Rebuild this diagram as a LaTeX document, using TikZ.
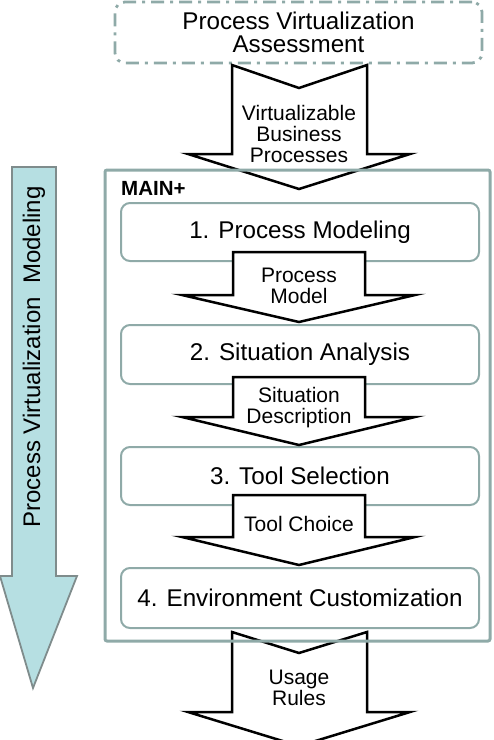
\documentclass[tikz,border=0pt]{standalone}
\usepackage{fontspec}
\setmainfont{Liberation Sans}
\definecolor{frame}{HTML}{8FAAA8}
\definecolor{lightblue}{HTML}{B6DFE2}
\definecolor{arrowline}{HTML}{7F8C8C}
\begin{document}
\begin{tikzpicture}[x=1pt,y=-1pt,
  stepbox/.style={draw=frame, line width=2pt, rounded corners=9pt, fill=white,
    minimum width=358pt, inner sep=0pt, font=\fontsize{24.2}{24}\selectfont},
  blockarrow/.style={draw=black, fill=white, line width=2.5pt, line join=miter},
  arrowlabel/.style={align=center, inner sep=0pt, font=\fontsize{21}{21}\selectfont}]
\useasboundingbox (0,0) rectangle (494,740);

% left arrow
\draw[fill=lightblue, draw=arrowline, line width=1.8pt, line join=miter]
  (12,167) -- (56,167) -- (56,576) -- (77,576) -- (33,688) -- (0,576) -- (12,576) -- cycle;
\node[rotate=90, inner sep=0pt, font=\fontsize{24}{24}\selectfont] (pvm) at (34,357) {Process Virtualization\ \ Modeling};

% top dashed box
\node[draw=frame, line width=2.8pt, dash pattern=on 13pt off 6pt on 3pt off 6pt,
  rounded corners=10pt, minimum width=367pt, minimum height=61pt, inner sep=0pt,
  align=center, font=\fontsize{24.2}{23}\selectfont] (pva) at (298.5,32.5)
  {Process Virtualization\\Assessment};

% outer arrows (behind the main frame)
\draw[blockarrow] (232,65) -- (299,88) -- (367,65) -- (367,154) -- (410,154) -- (299,189)
  -- (188,154) -- (232,154) -- cycle;
\node[arrowlabel] (a1) at (299,134) {Virtualizable\\Business\\Processes};

\draw[blockarrow] (232,632) -- (299,653) -- (367,632) -- (367,712) -- (410,712) -- (299,746)
  -- (188,712) -- (232,712) -- cycle;
\node[arrowlabel] (a5) at (299,688) {Usage\\Rules};

% main box
\node[draw=frame, line width=3pt, rounded corners=2pt, minimum width=385pt,
  minimum height=471pt, inner sep=0pt] (main) at (297.5,405.5) {};
\node[anchor=west, inner sep=0pt, font=\fontsize{20.5}{20}\selectfont\bfseries] (mainlbl) at (121,188) {MAIN+};

% step boxes
\node[stepbox, minimum height=58pt] (s1) at (300,232) {1. Process Modeling};
\node[stepbox, minimum height=59pt] (s2) at (300,354.5) {2. Situation Analysis};
\node[stepbox, minimum height=58pt] (s3) at (300,476) {3. Tool Selection};
\node[stepbox, minimum height=60pt] (s4) at (300,598) {4. Environment Customization};

% inner block arrows
\draw[blockarrow] (233,252) -- (365,252) -- (365,295) -- (415,295) -- (299,322)
  -- (182,295) -- (233,295) -- cycle;
\node[arrowlabel] (a2) at (299,285.5) {Process\\Model};

\draw[blockarrow] (233,377) -- (365,377) -- (365,417) -- (415,417) -- (299,445)
  -- (182,417) -- (233,417) -- cycle;
\node[arrowlabel] (a3) at (299,407.5) {Situation\\Description};

\draw[blockarrow] (233,495) -- (365,495) -- (365,537) -- (415,537) -- (299,565)
  -- (182,537) -- (233,537) -- cycle;
\node[arrowlabel] (a4) at (299,524) {Tool Choice};
\end{tikzpicture}
\end{document}
